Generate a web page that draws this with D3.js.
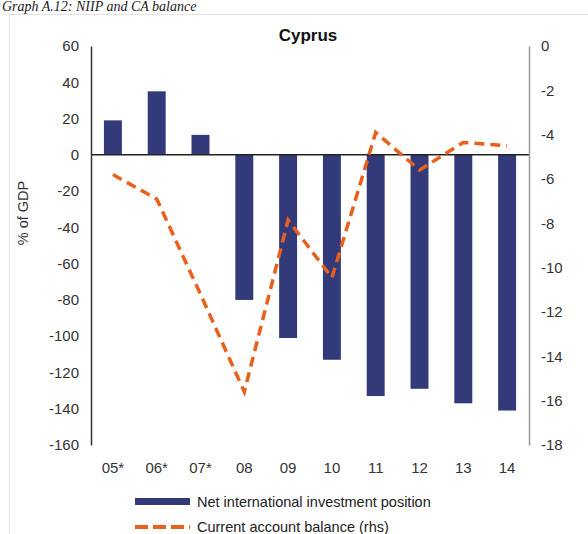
<!DOCTYPE html>
<html>
<head>
<meta charset="utf-8">
<script src="https://cdn.jsdelivr.net/npm/d3@7"></script>
<style>
  body { margin: 0; background: #fff; }
  #chart { width: 588px; height: 534px; }
  text { font-family: "Liberation Sans", Arial, sans-serif; }
</style>
</head>
<body>
<div id="chart"></div>
<script>
// data
var years = ["05*", "06*", "07*", "08", "09", "10", "11", "12", "13", "14"];
var niip = [19, 35, 11, -80, -101, -113, -133, -129, -137, -141];
var caBalance = [-5.8, -6.9, -11.2, -15.6, -7.85, -10.45, -3.9, -5.6, -4.35, -4.5];
var leftTicks = [60, 40, 20, 0, -20, -40, -60, -80, -100, -120, -140, -160];
var rightTicks = [0, -2, -4, -6, -8, -10, -12, -14, -16, -18];

var margin = {top: 46, right: 59, bottom: 89, left: 91},
    width = 588 - margin.left - margin.right,
    height = 534 - margin.top - margin.bottom;

var barColor = "#333a7a", lineColor = "#e8601c";

var svg = d3.select("#chart").append("svg")
    .attr("width", 588)
    .attr("height", 534);

// caption above the frame
svg.append("text")
    .attr("x", 2).attr("y", 11)
    .style("font-family", "'Liberation Serif', serif")
    .style("font-style", "italic")
    .style("font-size", "14px")
    .attr("fill", "#222")
    .text("Graph A.12: NIIP and CA balance");

svg.append("rect")
    .attr("x", 9.5).attr("y", 14.5)
    .attr("width", 600).attr("height", 600)
    .attr("fill", "none")
    .attr("stroke", "#e2e2e2");

var g = svg.append("g")
    .attr("transform", "translate(" + margin.left + "," + margin.top + ")");

var x = d3.scaleBand().domain(years).range([0, width]).paddingInner(0.59).paddingOuter(0.295);
var y = d3.scaleLinear().domain([-160, 60]).range([height, 0]);
var y2 = d3.scaleLinear().domain([-18, 0]).range([height, 0]);

// bars
g.selectAll(".bar")
    .data(years)
  .enter().append("rect")
    .attr("class", "bar")
    .attr("x", function(d) { return x(d); })
    .attr("width", x.bandwidth())
    .attr("y", function(d, i) { return y(Math.max(0, niip[i])); })
    .attr("height", function(d, i) { return Math.abs(y(niip[i]) - y(0)); })
    .attr("fill", barColor);

// zero line
g.append("line")
    .attr("x1", 0).attr("x2", width)
    .attr("y1", y(0)).attr("y2", y(0))
    .attr("stroke", "#222").attr("stroke-width", 1.5);

// current account line
var line = d3.line()
    .x(function(d, i) { return x(years[i]) + x.bandwidth() / 2; })
    .y(function(d) { return y2(d); });

g.append("path")
    .datum(caBalance)
    .attr("d", line)
    .attr("fill", "none")
    .attr("stroke", lineColor)
    .attr("stroke-width", 3.5)
    .attr("stroke-dasharray", "10,6");

// axes (plain hyphen for negatives, like the original)
var fmt = function(d) { return String(d); };

var leftAxis = g.append("g")
    .call(d3.axisLeft(y).tickValues(leftTicks).tickFormat(fmt).tickSize(0).tickPadding(12));
leftAxis.select(".domain").attr("stroke", "#333").attr("stroke-width", 1.5);

var rightAxis = g.append("g")
    .attr("transform", "translate(" + width + ",0)")
    .call(d3.axisRight(y2).tickValues(rightTicks).tickFormat(fmt).tickSize(0).tickPadding(12));
rightAxis.select(".domain").attr("stroke", "#999").attr("stroke-width", 1.5);

var xAxis = g.append("g")
    .attr("transform", "translate(0," + height + ")")
    .call(d3.axisBottom(x).tickSize(0).tickPadding(17));
xAxis.select(".domain").remove();

g.selectAll(".tick text")
    .style("font-size", "15px")
    .style("font-family", "'Liberation Sans', Arial, sans-serif")
    .attr("fill", "#333");

// y label
svg.append("text")
    .attr("transform", "translate(28,213) rotate(-90)")
    .attr("text-anchor", "middle")
    .style("font-size", "14.5px")
    .attr("fill", "#333")
    .text("% of GDP");

// title
svg.append("text")
    .attr("x", 308).attr("y", 41)
    .attr("text-anchor", "middle")
    .style("font-size", "17px")
    .style("font-weight", "bold")
    .attr("fill", "#111")
    .text("Cyprus");

// legend
var legend = svg.append("g");
legend.append("rect")
    .attr("x", 135).attr("y", 498)
    .attr("width", 55).attr("height", 7)
    .attr("fill", barColor);
legend.append("text")
    .attr("x", 197).attr("y", 507)
    .style("font-size", "14.5px")
    .attr("fill", "#222")
    .text("Net international investment position");
legend.append("line")
    .attr("x1", 135).attr("x2", 190)
    .attr("y1", 527).attr("y2", 527)
    .attr("stroke", lineColor)
    .attr("stroke-width", 4)
    .attr("stroke-dasharray", "13,5");
legend.append("text")
    .attr("x", 197).attr("y", 532)
    .style("font-size", "14.5px")
    .attr("fill", "#222")
    .text("Current account balance (rhs)");
</script>
</body>
</html>
